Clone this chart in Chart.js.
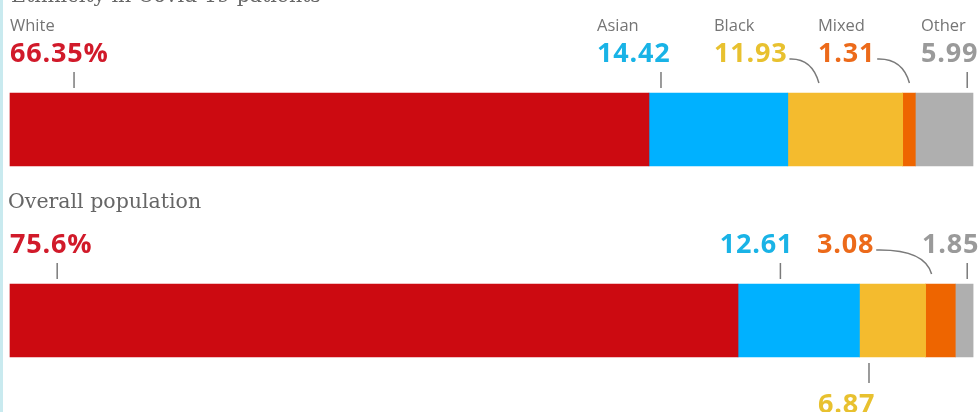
<!DOCTYPE html>
<html>
<head>
<meta charset="utf-8">
<script src="https://cdn.jsdelivr.net/npm/chart.js@4.4.1/dist/chart.umd.min.js"></script>
<style>
  body { margin: 0; background: #fff; }
  #wrap { position: relative; width: 979px; height: 412px; overflow: hidden; }
  #wrap:before { content: ''; position: absolute; left: 0; top: 0; width: 3px; height: 412px; background: #c9eaef; }
</style>
</head>
<body>
<div id="wrap"><canvas id="canvasBar" width="979" height="412"></canvas></div>
<script>
// data
var rowLabels = ['Ethnicity in Covid-19 patients', 'Overall population'];
var groups = ['White', 'Asian', 'Black', 'Mixed', 'Other'];
var covidShare = [66.35, 14.42, 11.93, 1.31, 5.99];
var overallShare = [75.6, 12.61, 6.87, 3.08, 1.85];

var barColors = ['#cc0a11', '#00b1ff', '#f4bb2e', '#ee6500', '#afafaf'];
var textColors = ['#d11a2a', '#19b3e6', '#e8c12f', '#ec6a1a', '#9a9a9a'];

// where each number sits, in x-axis units (0-100)
// kind: tick = straight tick, curve = bent leader, below = under the bar
var notes = [
    { row: 0, g: 0, textAt: 0, markAt: 6.65, kind: 'tick', pct: true },
    { row: 0, g: 1, textAt: 60.95, markAt: 67.6, kind: 'tick' },
    { row: 0, g: 2, textAt: 73.1, markAt: 84.0, kind: 'curve' },
    { row: 0, g: 3, textAt: 83.9, markAt: 93.4, kind: 'curve' },
    { row: 0, g: 4, textAt: 94.6, markAt: 99.4, kind: 'tick' },
    { row: 1, g: 0, textAt: 0, markAt: 4.9, kind: 'tick', pct: true },
    { row: 1, g: 1, textAt: 73.7, markAt: 80.0, kind: 'tick' },
    { row: 1, g: 2, textAt: 83.9, markAt: 89.2, kind: 'below' },
    { row: 1, g: 3, textAt: 83.8, markAt: 95.7, kind: 'curve' },
    { row: 1, g: 4, textAt: 94.7, markAt: 99.4, kind: 'tick' }
];

var datasets = groups.map(function (name, i) {
    return {
        label: name,
        data: [covidShare[i], overallShare[i]],
        backgroundColor: barColors[i],
        borderWidth: 0,
        barThickness: 73,
        clip: false
    };
});

var notesPlugin = {
    id: 'notes',
    afterDatasetsDraw: function (chart) {
        var ctx = chart.ctx;
        var xs = chart.scales.x, ys = chart.scales.y;
        var half = 36.5;
        ctx.save();

        // headers (serif), the first one is cut by the top edge
        ctx.fillStyle = '#666666';
        ctx.font = '20.5px "DejaVu Serif"';
        ctx.textBaseline = 'alphabetic';
        ctx.textAlign = 'left';
        var top0 = ys.getPixelForValue(0) - half;
        var top1 = ys.getPixelForValue(1) - half;
        ctx.fillText(rowLabels[0], 11, top0 - 91);
        ctx.fillText(rowLabels[1], 8, top1 - 76);

        // group names over the first bar
        ctx.font = '16.5px "Open Sans"';
        ctx.fillStyle = '#757575';
        notes.forEach(function (n) {
            if (n.row !== 0) return;
            ctx.fillText(groups[n.g], xs.getPixelForValue(n.textAt), top0 - 62);
        });

        notes.forEach(function (n) {
            var vals = n.row === 0 ? covidShare : overallShare;
            var barTop = ys.getPixelForValue(n.row) - half;
            var barBot = barTop + 2 * half;
            var tx = xs.getPixelForValue(n.textAt);
            var mx = xs.getPixelForValue(n.markAt);
            var txt = String(vals[n.g]) + (n.pct ? '%' : '');
            var base = n.kind === 'below' ? barBot + 56 : barTop - 31;

            ctx.font = 'bold 27px "Open Sans"';
            ctx.letterSpacing = '0.8px';
            ctx.fillStyle = textColors[n.g];
            ctx.fillText(txt, tx, base);
            var w = ctx.measureText(txt).width;
            ctx.letterSpacing = '0px';

            ctx.strokeStyle = '#7a7a7a';
            ctx.lineWidth = 1.5;
            ctx.beginPath();
            if (n.kind === 'tick') {
                ctx.moveTo(mx, barTop - 21);
                ctx.lineTo(mx, barTop - 5);
            } else if (n.kind === 'below') {
                ctx.moveTo(mx, barBot + 6);
                ctx.lineTo(mx, barBot + 26);
            } else {
                var sx = tx + w + 2, sy = base - 3;
                ctx.moveTo(sx, sy);
                ctx.quadraticCurveTo(mx - 7, sy - 1, mx, barTop - 10);
            }
            ctx.stroke();
        });
        ctx.restore();
    }
};

var config = {
    type: 'bar',
    data: {
        labels: rowLabels,
        datasets: datasets
    },
    options: {
        indexAxis: 'y',
        responsive: false,
        animation: false,
        layout: {
            padding: { left: 10, right: 6, top: 129.5, bottom: 91.5 }
        },
        scales: {
            x: { stacked: true, min: 0, max: 100, display: false },
            y: { stacked: true, offset: false, display: false }
        },
        plugins: {
            legend: { display: false },
            tooltip: { enabled: false }
        }
    },
    plugins: [notesPlugin]
};

window.myBar = new Chart(document.getElementById('canvasBar'), config);
</script>
</body>
</html>
